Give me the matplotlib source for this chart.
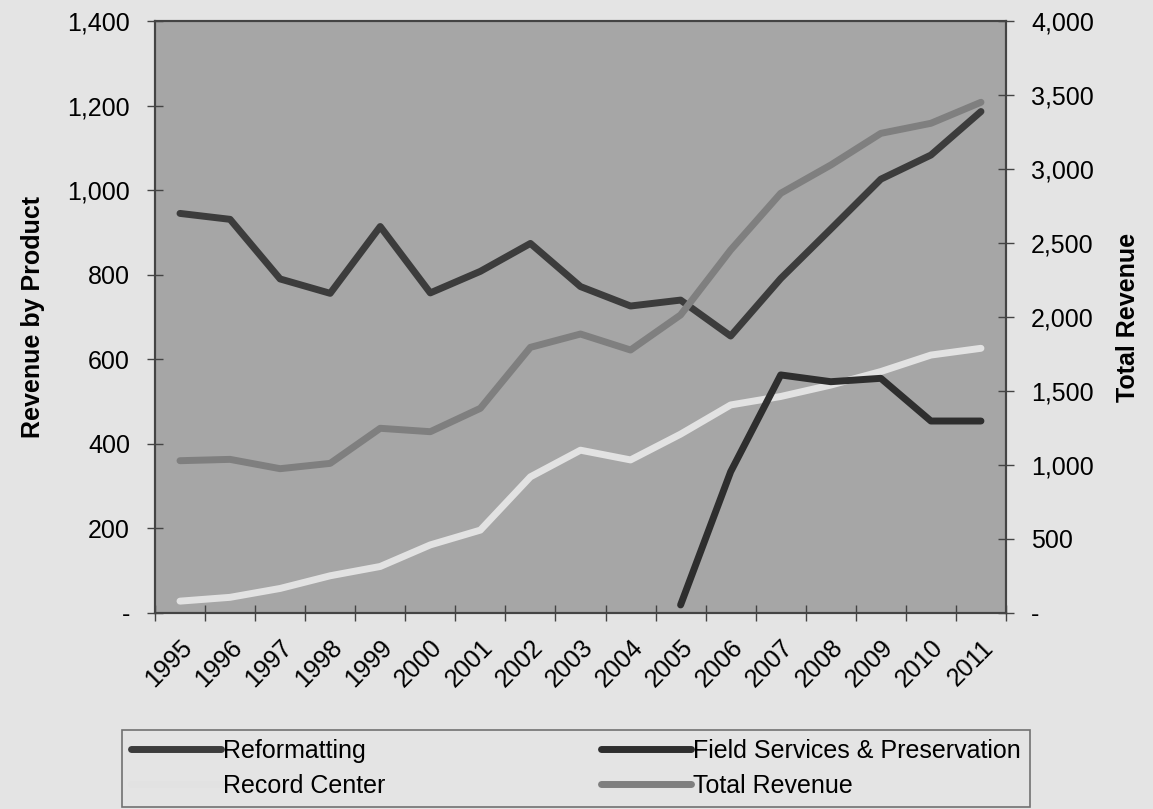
import numpy as np
import matplotlib
matplotlib.use("Agg")
import matplotlib.pyplot as plt
import matplotlib.ticker as mticker

plt.rcParams['font.family'] = ['Liberation Sans', 'DejaVu Sans']

# Data
years = [str(y) for y in range(1995, 2012)]
reformatting = [945, 931, 790, 756, 914, 757, 808, 874, 772, 726, 740, 655, 791, 908, 1026, 1083, 1186]
record_center = [28, 37, 58, 88, 110, 161, 196, 322, 385, 362, 423, 492, 512, 539, 571, 610, 626]
field_services = [np.nan] * 10 + [19, 334, 563, 547, 555, 454, 454]
total_revenue = [1029, 1038, 975, 1011, 1248, 1225, 1383, 1795, 1885, 1777, 2014, 2453, 2836, 3027, 3241, 3309, 3451]

fig_bg = '#e4e4e4'
plot_bg = '#a6a6a6'
fs = 18

fig = plt.figure(figsize=(11.53, 8.09), dpi=100, facecolor=fig_bg)
ax = fig.add_axes([0.1344, 0.2423, 0.7381, 0.7317])
ax.set_facecolor(plot_bg)
ax2 = ax.twinx()

x = np.arange(len(years))

l1, = ax.plot(x, reformatting, color='#3c3c3c', lw=5, label='Reformatting', solid_capstyle='round')
l3, = ax.plot(x, record_center, color='#e2e2e2', lw=5, label='Record Center', solid_capstyle='round')
l2, = ax.plot(x, field_services, color='#2e2e2e', lw=5, label='Field Services & Preservation', solid_capstyle='round')
l4, = ax2.plot(x, total_revenue, color='#7f7f7f', lw=5, label='Total Revenue', solid_capstyle='round')

ax.set_xlim(-0.5, len(years) - 0.5)
ax.set_ylim(0, 1400)
ax2.set_ylim(0, 4000)


def fmt(v, pos):
    return '-' if v == 0 else f'{v:,.0f}'


ax.yaxis.set_major_locator(mticker.MultipleLocator(200))
ax2.yaxis.set_major_locator(mticker.MultipleLocator(500))
ax.yaxis.set_major_formatter(mticker.FuncFormatter(fmt))
ax2.yaxis.set_major_formatter(mticker.FuncFormatter(fmt))

# ticks between categories, labels at category centres
ax.set_xticks(np.arange(-0.5, len(years), 1.0))
ax.set_xticklabels([])
ax.set_xticks(x, minor=True)
ax.set_xticklabels(years, minor=True, rotation=45, ha='right', rotation_mode='anchor', fontsize=fs)
ax.tick_params(axis='x', which='major', direction='inout', length=12, width=1, color='#444444')
ax.tick_params(axis='x', which='minor', length=0, pad=16)

ax.tick_params(axis='y', direction='inout', length=12, width=1, color='#444444', labelsize=fs, pad=12)
ax2.tick_params(axis='y', direction='inout', length=12, width=1, color='#444444', labelsize=fs, pad=12)

for a in (ax, ax2):
    for s in a.spines.values():
        s.set_color('#444444')
        s.set_linewidth(1.5)

ax.set_ylabel('Revenue by Product', fontsize=fs, fontweight='bold', labelpad=16)
ax2.set_ylabel('Total Revenue', fontsize=fs, fontweight='bold', labelpad=16)

leg = fig.legend(handles=[l1, l3, l2, l4], ncol=2, loc='lower left',
                 bbox_to_anchor=(0.106, 0.003, 0.787, 0.1), mode='expand',
                 fontsize=fs, handlelength=3.6, handletextpad=0.1,
                 frameon=True, fancybox=False, borderaxespad=0,
                 labelspacing=0.45, borderpad=0.35)
leg.get_frame().set_facecolor(fig_bg)
leg.get_frame().set_edgecolor('#555555')
leg.get_frame().set_linewidth(1.2)

fig.savefig('out.png', dpi=100, facecolor=fig_bg)
